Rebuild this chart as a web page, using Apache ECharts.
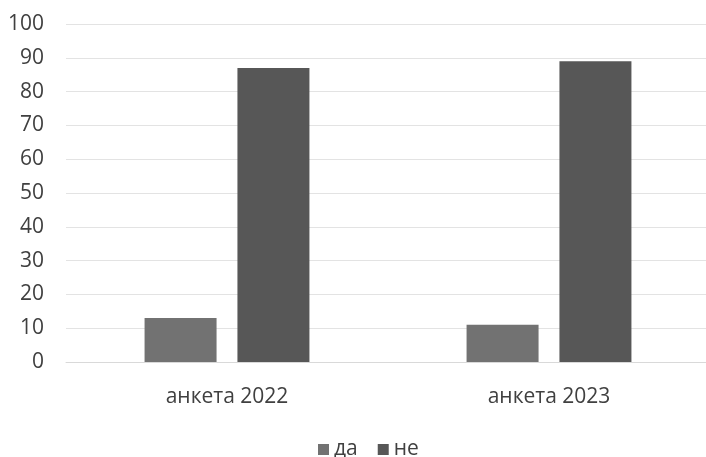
<!DOCTYPE html>
<html>
<head>
<meta charset="utf-8">
<script src="https://cdn.jsdelivr.net/npm/echarts@6/dist/echarts.min.js"></script>
<style>
  html, body { margin: 0; padding: 0; background: #ffffff; overflow: hidden; }
  #chart { width: 712px; height: 457px; }
</style>
</head>
<body>
<div id="chart"></div>
<script>
// Survey answers by year (percent)
const categories = ['анкета 2022', 'анкета 2023'];
const seriesNames = ['да', 'не'];
const yesValues = [13, 11];
const noValues = [87, 89];
const yTicks = { min: 0, max: 100, interval: 10 };

const fontFamily = '"Open Sans", "Noto Sans", sans-serif';
const textColor = '#404040';

const chart = echarts.init(document.getElementById('chart'), null, { renderer: 'canvas' });
chart.setOption({
  animation: false,
  backgroundColor: '#ffffff',
  grid: { left: 66, right: 2, top: 24, bottom: 95 },
  legend: {
    data: seriesNames,
    top: 434,
    left: 313,
    itemWidth: 11,
    itemHeight: 11,
    itemGap: 20,
    icon: 'rect',
    textStyle: { color: textColor, fontSize: 21, fontFamily: fontFamily }
  },
  xAxis: {
    type: 'category',
    data: categories,
    axisLine: { show: true, lineStyle: { color: '#d9d9d9', width: 1 } },
    axisTick: { show: false },
    axisLabel: { color: textColor, fontSize: 21, fontFamily: fontFamily, margin: 25 }
  },
  yAxis: {
    type: 'value',
    min: yTicks.min,
    max: yTicks.max,
    interval: yTicks.interval,
    axisLine: { show: false },
    axisTick: { show: false },
    splitLine: { lineStyle: { color: '#e3e3e3', width: 1 } },
    axisLabel: { color: textColor, fontSize: 21, fontFamily: fontFamily, margin: 22 }
  },
  series: [
    {
      name: seriesNames[0],
      type: 'bar',
      data: yesValues,
      barGap: '29%',
      barCategoryGap: '48.8%',
      itemStyle: { color: '#727272' }
    },
    {
      name: seriesNames[1],
      type: 'bar',
      data: noValues,
      itemStyle: { color: '#575757' }
    }
  ]
});
</script>
</body>
</html>
